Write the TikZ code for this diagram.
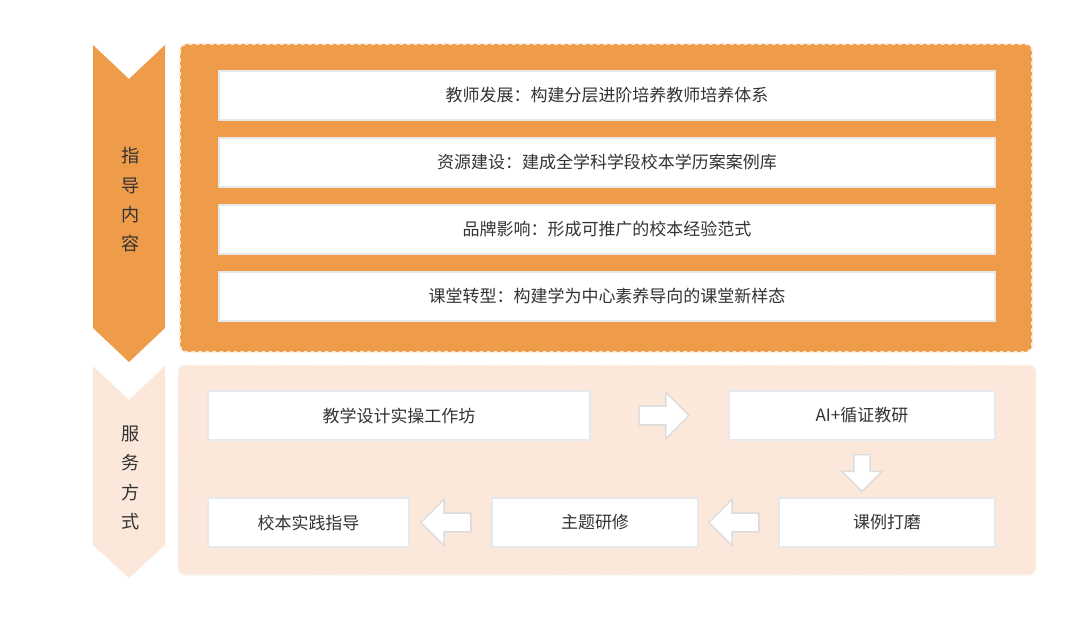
\documentclass[tikz,border=0pt]{standalone}
\usepackage{fontspec}
\newfontfamily\cjk{Noto Sans CJK SC}
\usetikzlibrary{shapes.arrows,calc}
\definecolor{deeporange}{HTML}{EE9B4A}
\definecolor{paleorange}{HTML}{FBE8DA}
\definecolor{boxline}{HTML}{E6E8EA}
\definecolor{arrowline}{HTML}{DCDCDC}
\definecolor{txt}{HTML}{333333}
\tikzset{
  rowbox/.style={draw=boxline, line width=1.2pt, fill=white, text=txt},
  fatarrow/.style={single arrow, draw=arrowline, line width=1.2pt, fill=white,
    minimum height=15mm, minimum width=14mm, single arrow head extend=1.2mm, inner sep=0.6mm},
}
\begin{document}
\begin{tikzpicture}[x=0.3mm, y=-0.3mm, font=\cjk\fontsize{14.5}{17}\selectfont]
\useasboundingbox (0,0) rectangle (1080,621);

% Left chevrons
\fill[deeporange] (93,45) -- (129,79) -- (165,45) -- (165,328) -- (129,362) -- (93,328) -- cycle;
\fill[paleorange] (93,366) -- (129,400) -- (165,366) -- (165,545) -- (129,578) -- (93,545) -- cycle;
\node[text=txt, align=center, font=\cjk\fontsize{15.5}{25}\selectfont] (guide) at (131,200) {指\\导\\内\\容};
\node[text=txt, align=center, font=\cjk\fontsize{15.5}{25}\selectfont] (service) at (131,478) {服\\务\\方\\式};

% Content panel
\fill[deeporange, rounded corners=6pt] (180,44) rectangle (1032,352);
\draw[white!80!deeporange, dashed, line width=1.5pt, rounded corners=6pt] (180,44) rectangle (1032,352);
\foreach \y/\label [count=\i] in {95.5/{教师发展：构建分层进阶培养教师培养体系},
    162.5/{资源建设：建成全学科学段校本学历案案例库},
    229.5/{品牌影响：形成可推广的校本经验范式},
    296.5/{课堂转型：构建学为中心素养导向的课堂新样态}}
  \node[rowbox, minimum width=232.8mm, minimum height=14.7mm] (row\i) at (607,\y) {\label};

% Service panel
\fill[paleorange, rounded corners=6pt] (178,365) rectangle (1036,575);
\draw[white!60!paleorange, dashed, line width=1.5pt, rounded corners=6pt] (178,365) rectangle (1036,575);

\node[rowbox, minimum width=114.6mm, minimum height=14.7mm] (workshop) at (399,415.5) {教学设计实操工作坊};
\node[rowbox, minimum width=79.8mm, minimum height=14.7mm] (research) at (862,415.5) {AI+循证教研};
\node[rowbox, minimum width=64.8mm, minimum height=14.7mm] (polish) at (887,522.5) {课例打磨};
\node[rowbox, minimum width=61.8mm, minimum height=14.7mm] (topic) at (595,522.5) {主题研修};
\node[rowbox, minimum width=60.3mm, minimum height=14.7mm] (school) at (308.5,522.5) {校本实践指导};

% Flow arrows
\node[fatarrow] (a1) at ($(workshop.east)!0.5!(research.west)$) {};
\node[fatarrow, shape border rotate=270, minimum height=11mm, minimum width=12mm] (a2) at ($(research.south)!0.5!(research.south |- polish.north)$) {};
\node[fatarrow, shape border rotate=180] (a3) at ($(topic.east)!0.5!(polish.west)$) {};
\node[fatarrow, shape border rotate=180] (a4) at ($(school.east)!0.5!(topic.west)$) {};
\end{tikzpicture}
\end{document}
